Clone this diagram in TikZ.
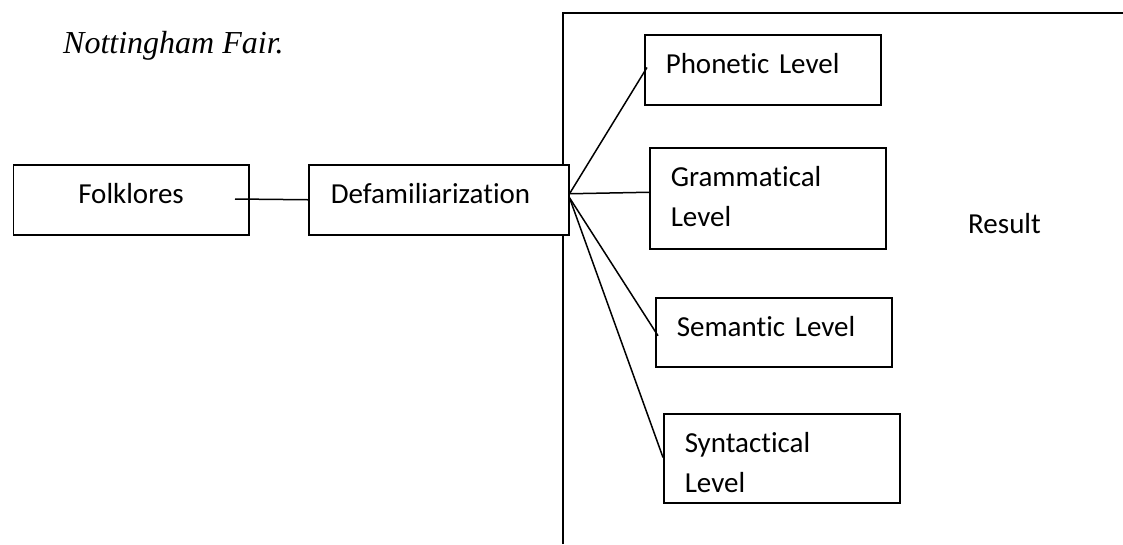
\documentclass[tikz,border=0pt]{standalone}
\usepackage{fontspec}
\setmainfont[Ligatures=NoCommon]{Carlito}
\newfontfamily\timesfont{Liberation Serif}
\usetikzlibrary{calc}
\begin{document}
\begin{tikzpicture}[x=1pt,y=-1pt,
  box/.style={draw, line width=1.5pt, fill=white, anchor=north west, inner ysep=0pt,
    text height=39pt, font=\fontsize{29pt}{39.5pt}\selectfont},
  lvl/.style={box, inner xsep=21pt, text width=194pt, align=left},
  conn/.style={line width=1.5pt},
  plain/.style={inner sep=0pt, anchor=base west}]
\useasboundingbox (0,0) rectangle (1123,544);
% frame
\coordinate (fb) at (563,544);
\coordinate (fc) at (563,13);
\coordinate (fr) at (1123,13);
\draw[conn] (fb) -- (fc) -- (fr);
% title
\node[plain, font=\timesfont\itshape\fontsize{32pt}{38pt}\selectfont] (title) at (63,53.3) {Nottingham Fair.};
% left boxes
\node[box, inner xsep=20pt, text width=195.4pt, align=center, text depth=31pt] (folk) at (12.6,164) {Folklores};
\node[box, inner xsep=22pt, text width=216pt, align=left, text depth=31pt] (defam) at (308,164) {Defamiliarization};
% level boxes
\node[lvl, text depth=31pt] (ph) at (644,34) {Phonetic Level};
\node[lvl, text depth=62pt] (gr) at (649,147) {Grammatical\\Level};
\node[lvl, text depth=30pt] (se) at (655,297) {Semantic Level};
\node[lvl, text depth=50pt] (sy) at (663,413) {Syntactical\\Level};
% result
\node[plain, font=\fontsize{29pt}{35pt}\selectfont] (res) at (968,233.3) {Result};
% connectors
\coordinate (fk) at (235,199);
\draw[conn] (fk) -- (defam.west);
\coordinate (o1) at ([yshift=6pt]defam.east);
\coordinate (o2) at ([yshift=2pt]defam.east);
\draw[conn] (o1) -- ([shift={(3pt,2.3pt)}]ph.west);
\draw[conn] (o1) -- ([yshift=6pt]gr.west);
\draw[conn] (o2) -- ([shift={(3pt,-3.5pt)}]se.west);
\draw[conn] (o2) -- ([shift={(0pt,0.8pt)}]sy.west);
\end{tikzpicture}
\end{document}
